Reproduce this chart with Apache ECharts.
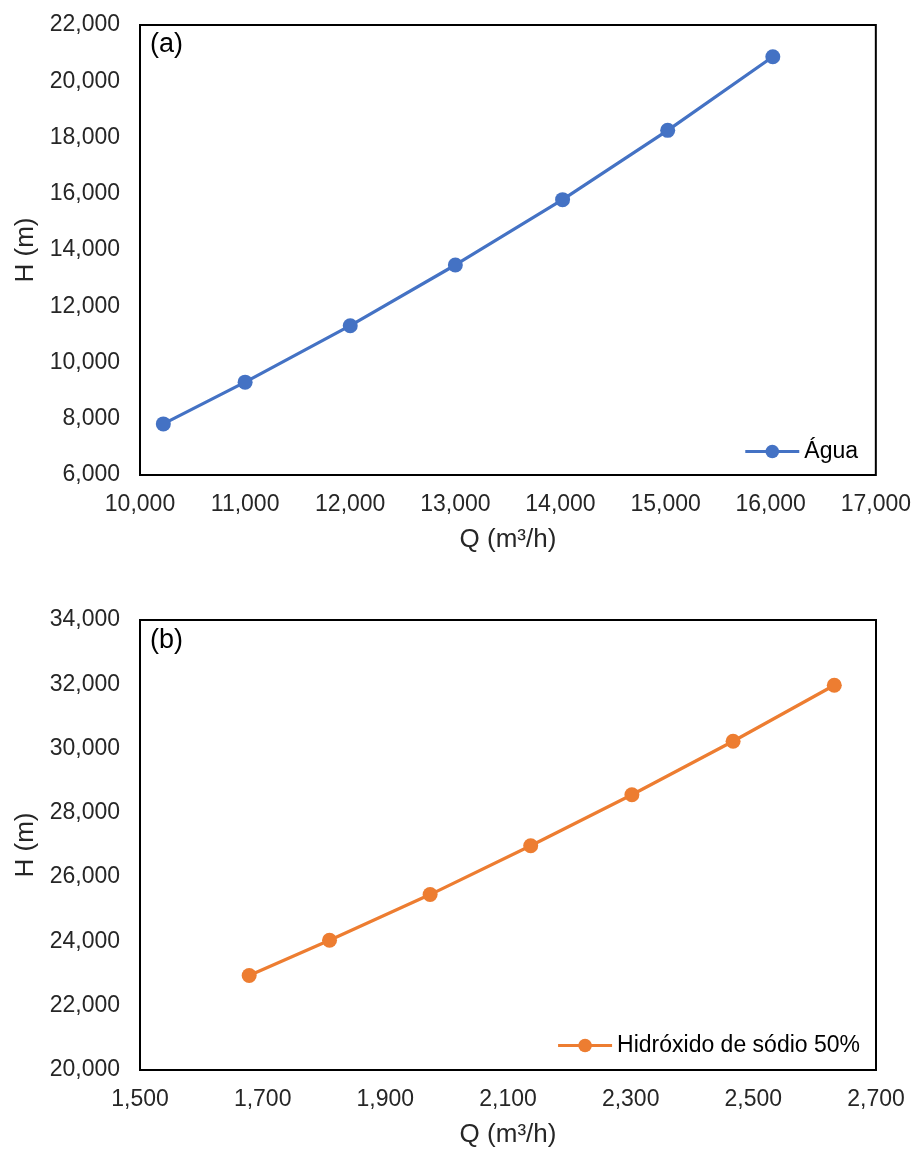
<!DOCTYPE html>
<html>
<head>
<meta charset="utf-8">
<script src="https://cdn.jsdelivr.net/npm/echarts@6/dist/echarts.min.js"></script>
<style>html,body{margin:0;padding:0;background:#fff}#c{width:914px;height:1149px}</style>
</head>
<body>
<div id="c"></div>
<script>
// Data
const qAgua = [10222, 11000, 12000, 13000, 14020, 15020, 16020];
const hAgua = [7816, 9302, 11308, 13467, 15790, 18254, 20870];
const qNaOH = [1678, 1809, 1973, 2137, 2302, 2467, 2632];
const hNaOH = [22940, 24038, 25458, 26978, 28564, 30228, 31970];
const seriesNames = ['Água', 'Hidróxido de sódio 50%'];
const panelLabels = ['(a)', '(b)'];
const xTitle = 'Q (m³/h)';
const yTitle = 'H (m)';

const fmt = v => Number(v).toLocaleString('en-US');
const font = 'Liberation Sans, Arial, sans-serif';
const labelStyle = {color: '#262626', fontSize: 23, fontFamily: font};
const titleStyle = {color: '#262626', fontSize: 26, fontFamily: font};

function xAxis(idx, min, max, interval) {
  return {
    type: 'value', gridIndex: idx, min, max, interval,
    name: xTitle, nameLocation: 'middle', nameGap: 52,
    nameTextStyle: titleStyle,
    axisLine: {show: false}, axisTick: {show: false}, splitLine: {show: false},
    axisLabel: Object.assign({formatter: fmt, margin: 18}, labelStyle)
  };
}
function yAxis(idx, min, max, interval) {
  return {
    type: 'value', gridIndex: idx, min, max, interval,
    name: yTitle, nameLocation: 'middle', nameGap: 101, nameRotate: 90,
    nameTextStyle: titleStyle,
    axisLine: {show: false}, axisTick: {show: false}, splitLine: {show: false},
    axisLabel: Object.assign({formatter: fmt, margin: 20}, labelStyle)
  };
}
function series(name, xs, ys, idx, color) {
  return {
    name, type: 'line', xAxisIndex: idx, yAxisIndex: idx,
    data: xs.map((x, i) => [x, ys[i]]),
    symbol: 'circle', symbolSize: 15,
    lineStyle: {color, width: 3.2}, itemStyle: {color},
    animation: false
  };
}
function legend(name, right, top) {
  return {
    data: [name], right, top, padding: 0, itemWidth: 54, itemHeight: 17,
    lineStyle: {width: 3.2},
    textStyle: {color: '#000', fontSize: 23, fontFamily: font}
  };
}

const chart = echarts.init(document.getElementById('c'));
chart.setOption({
  backgroundColor: '#fff',
  animation: false,
  grid: [
    {left: 140, top: 25, width: 736, height: 450, show: true, borderColor: '#000', borderWidth: 2},
    {left: 140, top: 620, width: 736, height: 451, show: true, borderColor: '#000', borderWidth: 2}
  ],
  xAxis: [xAxis(0, 10000, 17000, 1000), xAxis(1, 1500, 2700, 200)],
  yAxis: [yAxis(0, 6000, 22000, 2000), yAxis(1, 20000, 34000, 2000)],
  legend: [legend(seriesNames[0], 56, 440), legend(seriesNames[1], 54, 1034)],
  graphic: [
    {type: 'text', left: 150, top: 31, style: {text: panelLabels[0], fontSize: 27, fontFamily: font, fill: '#000'}},
    {type: 'text', left: 150, top: 627, style: {text: panelLabels[1], fontSize: 27, fontFamily: font, fill: '#000'}}
  ],
  series: [
    series(seriesNames[0], qAgua, hAgua, 0, '#4472C4'),
    series(seriesNames[1], qNaOH, hNaOH, 1, '#ED7D31')
  ]
});
</script>
</body>
</html>
